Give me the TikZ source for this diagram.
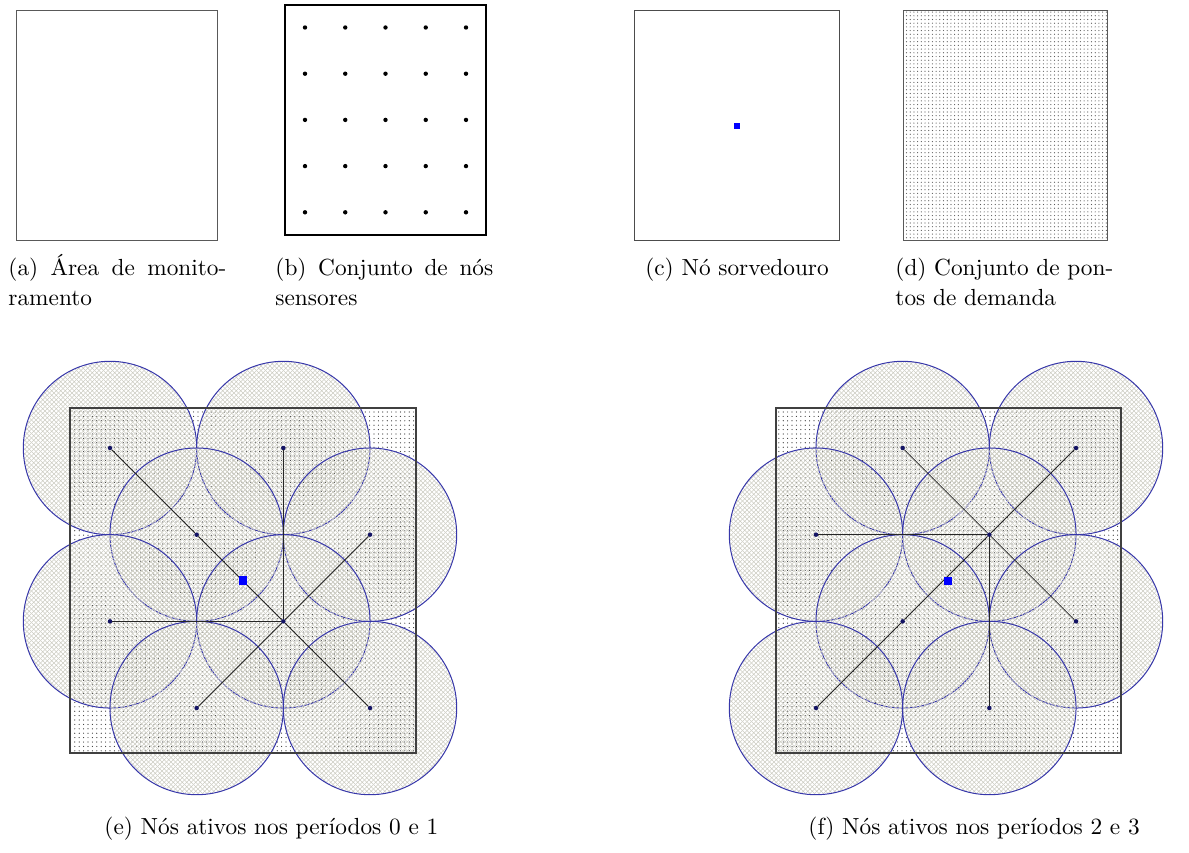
\documentclass[tikz,border=0pt]{standalone}
\usetikzlibrary{patterns}
\pgfdeclarepatternformonly{edots}{\pgfqpoint{-1pt}{-1pt}}{\pgfqpoint{1pt}{1pt}}{\pgfqpoint{4.4pt}{4.4pt}}{\pgfpathcircle{\pgfqpoint{0pt}{0pt}}{0.6pt}\pgfusepath{fill}}
\pgfdeclarepatternformonly{ddots}{\pgfqpoint{-1pt}{-1pt}}{\pgfqpoint{1pt}{1pt}}{\pgfqpoint{3.7pt}{3.7pt}}{\pgfpathcircle{\pgfqpoint{0pt}{0pt}}{0.6pt}\pgfusepath{fill}}
\pgfdeclarepatternformonly{xhatch}{\pgfqpoint{-0.5pt}{-0.5pt}}{\pgfqpoint{5pt}{5pt}}{\pgfqpoint{4.5pt}{4.5pt}}{\pgfsetlinewidth{0.4pt}\pgfpathmoveto{\pgfqpoint{0pt}{0pt}}\pgfpathlineto{\pgfqpoint{4.5pt}{4.5pt}}\pgfpathmoveto{\pgfqpoint{0pt}{4.5pt}}\pgfpathlineto{\pgfqpoint{4.5pt}{0pt}}\pgfusepath{stroke}}
\definecolor{rangec}{RGB}{55,55,170}
\definecolor{navyc}{RGB}{20,20,100}
\definecolor{sinkc}{RGB}{0,0,255}
\definecolor{hatchc}{RGB}{205,205,195}
\begin{document}
\begin{tikzpicture}[x=1pt,y=-1pt,
  panelbox/.style={draw=black!65, line width=1pt},
  sensnode/.style={circle, fill=navyc, inner sep=0pt, minimum size=4.5pt},
  gridnode/.style={circle, fill=black, inner sep=0pt, minimum size=4.4pt},
  sinknode/.style={fill=sinkc, inner sep=0pt, minimum size=#1},
  coverage/.style={draw=rangec, line width=1pt, pattern=xhatch, pattern color=hatchc},
  treelink/.style={draw=black!85, line width=0.8pt},
  captext/.style={inner sep=0pt, scale=2.33, transform shape, font=\fontsize{10}{12.9}\selectfont},
  jcaptext/.style={captext, text width=93.5pt, align=justify, anchor=base west},
]
\useasboundingbox (0,0) rectangle (1189,852);
% (a)
\draw[panelbox] (16,10) rectangle (217,240);
% (b)
\draw[panelbox, draw=black, line width=1.3pt] (285,5) rectangle (486,235);
\foreach \i in {0,...,4} \foreach \j in {0,...,4}
  \node[gridnode] (b\i\j) at ({305+40.25*\i},{27.5+46.2*\j}) {};
% (c)
\draw[panelbox, draw=black!70] (634,10) rectangle (839,240);
\node[sinknode=6pt] (csink) at (737,126) {};
% (d)
\path[pattern=ddots, pattern color=black!65] (903,10) rectangle (1107,240);
\draw[panelbox] (903,10) rectangle (1107,240);
% captions top
\node[jcaptext] (capa) at (8,275) {(a) Área de monito-\linebreak ramento};
\node[jcaptext] (capb) at (275,275) {(b) Conjunto de nós\linebreak sensores};
\node[captext, anchor=base] (capc) at (737,275) {(c) Nó sorvedouro};
\node[jcaptext] (capd) at (895,275) {(d) Conjunto de pon-\linebreak tos de demanda};
% (e)
\path[pattern=edots, pattern color=black!80] (70,408) rectangle (416,753);
\foreach \i/\j in {0/0,2/0,1/1,3/1,0/2,2/2,1/3,3/3}
  \path[coverage] ({110+86.67*\i},{448+86.67*\j}) circle (86.7);
\draw[panelbox, draw=black!75, line width=1.2pt] (70,408) rectangle (416,753);
\foreach \i/\j in {0/0,2/0,1/1,3/1,0/2,2/2,1/3,3/3}
  \node[sensnode] (e\i\j) at ({110+86.67*\i},{448+86.67*\j}) {};
\draw[treelink] (e00) -- (e11) -- (e22) -- (e33);
\draw[treelink] (e20) -- (e22);
\draw[treelink] (e02) -- (e22);
\draw[treelink] (e13) -- (e22) -- (e31);
\node[sinknode=8.5pt] (esink) at (243,580.5) {};
% (f)
\path[pattern=edots, pattern color=black!80] (776,408) rectangle (1121,753);
\foreach \i/\j in {1/0,3/0,0/1,2/1,1/2,3/2,0/3,2/3}
  \path[coverage] ({816+86.67*\i},{448+86.67*\j}) circle (86.7);
\draw[panelbox, draw=black!75, line width=1.2pt] (776,408) rectangle (1121,753);
\foreach \i/\j in {1/0,3/0,0/1,2/1,1/2,3/2,0/3,2/3}
  \node[sensnode] (f\i\j) at ({816+86.67*\i},{448+86.67*\j}) {};
\draw[treelink] (f10) -- (f21) -- (f32);
\draw[treelink] (f01) -- (f21);
\draw[treelink] (f21) -- (f23);
\draw[treelink] (f03) -- (f12) -- (f21) -- (f30);
\node[sinknode=8.5pt] (fsink) at (948,581) {};
% captions bottom
\node[captext, anchor=base west] (cape) at (104,834) {(e) Nós ativos nos períodos 0 e 1};
\node[captext, anchor=base west] (capf) at (808,834) {(f) Nós ativos nos períodos 2 e 3};
\end{tikzpicture}
\end{document}
